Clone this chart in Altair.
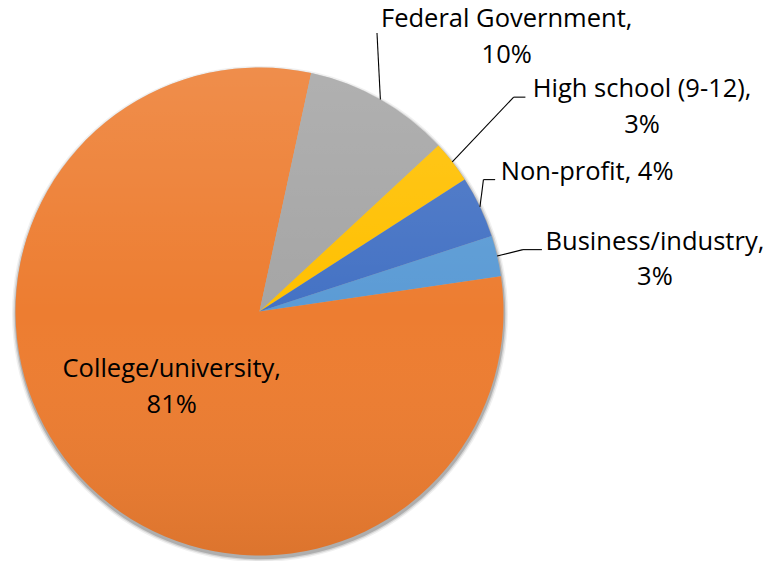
import math
import altair as alt
import pandas as pd

# ---- data ----
categories = ["Business/industry", "College/university", "Federal Government",
              "High school (9-12)", "Non-profit"]
values = [2.7, 80.7, 9.7, 2.8, 4.1]          # percent shares
colors = ["#5B9BD5", "#ED7D31", "#A5A5A5", "#FFC000", "#4472C4"]

# ---- label layout (offsets from the slice's outer mid point) ----
label_sep = ["\n", "\n", "\n", "\n", " "]
text_dx = [157.8, 90.6, 126.3, 189.8, 107.2]
text_dy = [-6.4, -100.6, -72.2, -64.8, -26.6]
elbow_dx = [25.8, None, -3.4, 61.4, 3.5]
elbow_dy = [-6.4, None, -66.5, -64.8, -27.3]
end_dx = [44.8, None, -3.4, 73.1, 15.2]
end_dy = [-6.4, None, -66.5, -64.8, -27.3]

# ---- geometry ----
CX, CY, R = 251.5, 303.5, 244
START = math.radians(72)      # angle of first slice
FONT = "Open Sans"

labels = [f"{c},{s}{v:.0f}%" for c, s, v in zip(categories, label_sep, values)]

df = pd.DataFrame({
    "category": categories, "value": values, "order": list(range(len(values))),
    "label": labels, "tdx": text_dx, "tdy": text_dy,
    "edx": elbow_dx, "edy": elbow_dy, "ndx": end_dx, "ndy": end_dy,
})

base = alt.Chart(df)

color_scale = alt.Scale(domain=categories, range=colors)

pie = base.mark_arc(radius=R, stroke=None).encode(
    theta=alt.Theta("value:Q", stack=True,
                    scale=alt.Scale(range=[START, START + 2 * math.pi])),
    color=alt.Color("category:N", scale=color_scale, legend=None),
    order=alt.Order("order:Q"),
    x=alt.value(CX), y=alt.value(CY),
)

shade = alt.Gradient(
    gradient="linear", x1=0, y1=0, x2=0, y2=1,
    stops=[alt.GradientStop(offset=0, color="rgba(255,255,255,0.13)"),
           alt.GradientStop(offset=0.5, color="rgba(255,255,255,0.0)"),
           alt.GradientStop(offset=1, color="rgba(0,0,0,0.07)")],
)
overlay = base.transform_filter("datum.order == 0").mark_arc(
    radius=R, fill=shade, stroke=None
).encode(theta=alt.value(0), theta2=alt.value(2 * math.pi),
         x=alt.value(CX), y=alt.value(CY))

shadows = []
for dr, op in [(4.0, 0.06), (2.6, 0.11), (1.2, 0.18)]:
    shadows.append(
        base.transform_filter("datum.order == 0").mark_arc(
            radius=R + dr, fill="black", fillOpacity=op, stroke=None
        ).encode(theta=alt.value(0), theta2=alt.value(2 * math.pi),
                 x=alt.value(CX + 0.5), y=alt.value(CY + 2.5))
    )

geo = base.transform_window(
    cum="sum(value)", sort=[alt.SortField("order")], frame=[None, 0]
).transform_joinaggregate(total="sum(value)").transform_calculate(
    mid=f"{START} + 2*PI*(datum.cum - datum.value/2)/datum.total"
).transform_calculate(
    px=f"{CX} + {R}*sin(datum.mid)", py=f"{CY} - {R}*cos(datum.mid)"
).transform_calculate(
    tx="datum.px + datum.tdx", ty="datum.py + datum.tdy",
    ex="datum.px + datum.edx", ey="datum.py + datum.edy",
    nx="datum.px + datum.ndx", ny="datum.py + datum.ndy",
)

lead1 = geo.transform_filter("isValid(datum.edx)").mark_rule(
    color="black", strokeWidth=1.1
).encode(
    x=alt.X("px:Q", scale=None), y=alt.Y("py:Q", scale=None),
    x2="ex:Q", y2="ey:Q",
)
lead2 = geo.transform_filter("isValid(datum.edx)").mark_rule(
    color="black", strokeWidth=1.1
).encode(
    x=alt.X("ex:Q", scale=None), y=alt.Y("ey:Q", scale=None),
    x2="nx:Q", y2="ny:Q",
)

text = geo.mark_text(
    font=FONT, fontSize=25.5, color="black", align="center",
    baseline="alphabetic", lineBreak="\n", lineHeight=35.5,
).encode(
    x=alt.X("tx:Q", scale=None), y=alt.Y("ty:Q", scale=None),
    text="label:N",
)

chart = alt.layer(*shadows, pie, overlay, lead1, lead2, text).properties(
    width=755, height=553, padding=0,
    autosize=alt.AutoSizeParams(type="none"),
).configure_view(stroke=None)

chart.save("out.html", embed_options={"renderer": "svg", "actions": False})
